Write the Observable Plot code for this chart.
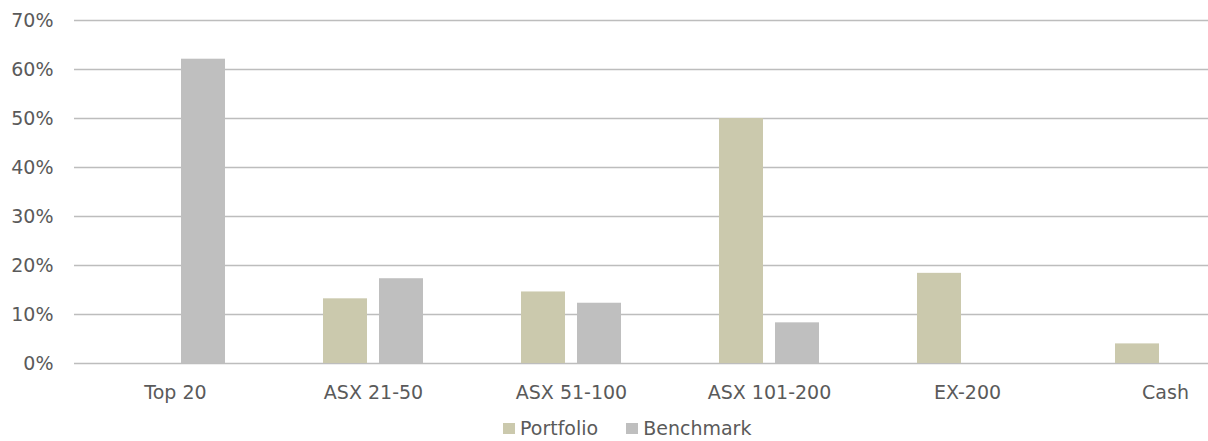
<!DOCTYPE html>
<html>
<head>
<meta charset="utf-8">
<script src="https://cdn.jsdelivr.net/npm/d3@7"></script>
<script src="https://cdn.jsdelivr.net/npm/@observablehq/plot@0.6"></script>
<style>
  html, body { margin: 0; padding: 0; background: #fff; }
  body { width: 1208px; height: 441px; position: relative; overflow: hidden; font-family: "DejaVu Sans", sans-serif; }
  #legend { position: absolute; left: 503px; top: 419px; display: flex; align-items: center; font-size: 19px; line-height: 19px; color: #5a5a5a; }
  .item { display: flex; align-items: center; margin-right: 28px; }
  .sw { width: 12px; height: 11px; margin-right: 5px; }
</style>
</head>
<body>
<div id="chart"></div>
<div id="legend"></div>
<script>
const categories = ["Top 20", "ASX 21-50", "ASX 51-100", "ASX 101-200", "EX-200", "Cash"];
const portfolio = [0, 13.2, 14.6, 50.0, 18.4, 4.0];
const benchmark = [62.1, 17.3, 12.3, 8.3, 0, 0];
const seriesNames = ["Portfolio", "Benchmark"];
const seriesColors = ["#CBC9AD", "#BFBFBF"];
const yTicks = [0, 10, 20, 30, 40, 50, 60, 70];

const pData = categories.map((c, i) => ({category: c, value: portfolio[i]})).filter(d => d.value > 0);
const bData = categories.map((c, i) => ({category: c, value: benchmark[i]})).filter(d => d.value > 0);

const chart = Plot.plot({
  width: 1208,
  height: 410,
  marginLeft: 74,
  marginRight: 0,
  marginTop: 20,
  marginBottom: 47,
  style: {fontFamily: "'DejaVu Sans', sans-serif", fontSize: "19px", color: "#5a5a5a", background: "#fff"},
  x: {domain: categories, range: [74, 1265], paddingInner: 0.778, paddingOuter: 0.389, label: null},
  y: {domain: [0, 70], label: null},
  marks: [
    Plot.gridY(yTicks, {stroke: "#BDBDBD", strokeOpacity: 1, strokeWidth: 1.4}),
    Plot.barY(pData, {x: "category", y: "value", fill: seriesColors[0], dx: -28}),
    Plot.barY(bData, {x: "category", y: "value", fill: seriesColors[1], dx: 28}),
    Plot.axisY(yTicks, {tickSize: 0, tickPadding: 21, tickFormat: d => d + "%", fill: "#5a5a5a", fontSize: 19}),
    Plot.axisX({tickSize: 0, tickPadding: 22, fill: "#5a5a5a", fontSize: 19})
  ]
});
document.getElementById("chart").appendChild(chart);

const legend = document.getElementById("legend");
seriesNames.forEach((n, i) => {
  const item = document.createElement("div");
  item.className = "item";
  const sw = document.createElement("div");
  sw.className = "sw";
  sw.style.background = seriesColors[i];
  const t = document.createElement("span");
  t.textContent = n;
  item.appendChild(sw);
  item.appendChild(t);
  legend.appendChild(item);
});
</script>
</body>
</html>
